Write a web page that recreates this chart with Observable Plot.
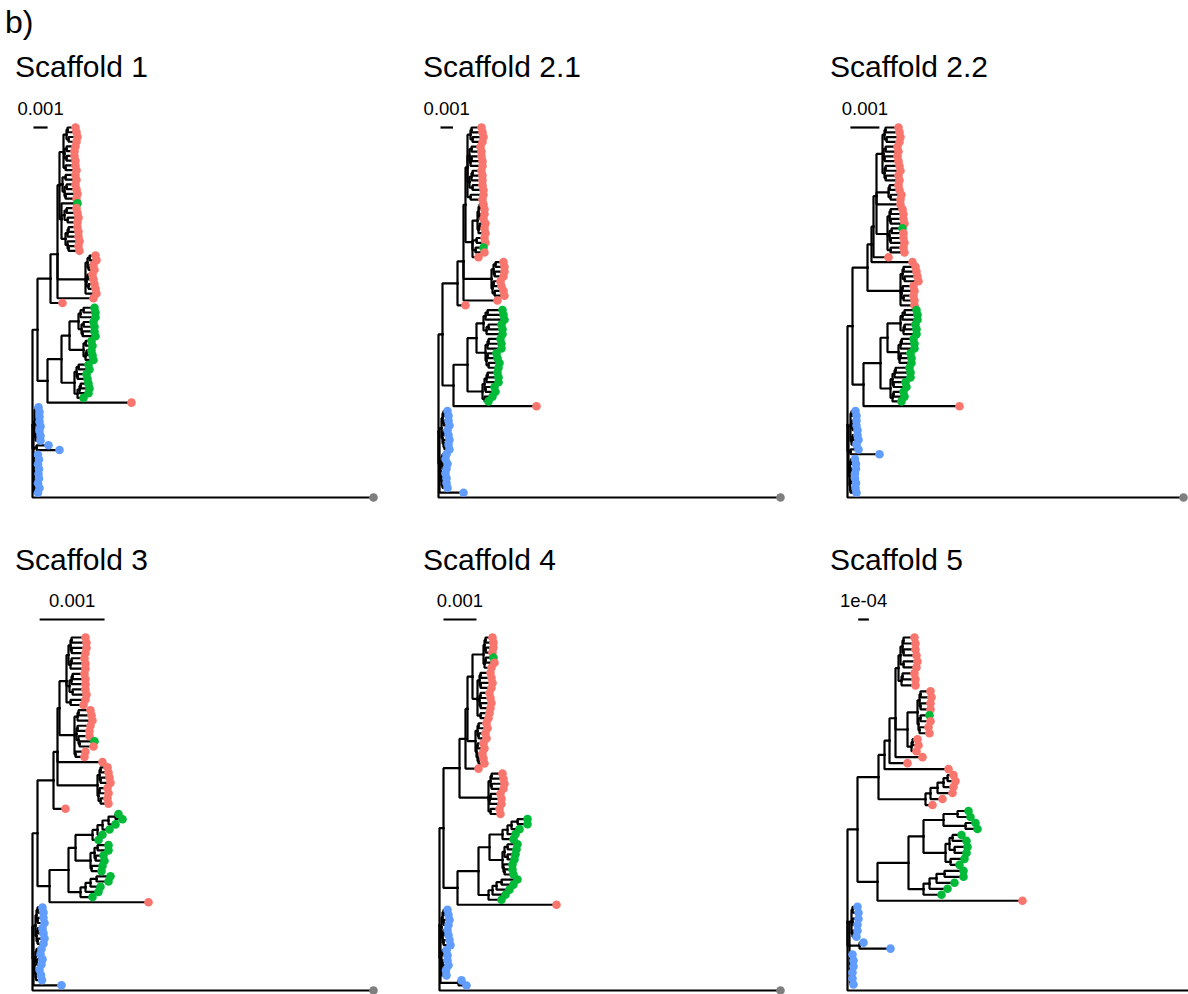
<!DOCTYPE html>
<html>
<head>
<meta charset="utf-8">
<script src="https://cdn.jsdelivr.net/npm/d3@7"></script>
<script src="https://cdn.jsdelivr.net/npm/@observablehq/plot@0.6"></script>
<style>
  html, body { margin: 0; padding: 0; background: #fff; }
  body { width: 1188px; height: 994px; overflow: hidden; position: relative;
         font-family: "Liberation Sans", Arial, Helvetica, sans-serif; color: #000; }
  .lbl { position: absolute; line-height: 1; white-space: nowrap; }
  .panel { position: absolute; width: 396px; }
  .panel svg { display: block; }
</style>
</head>
<body>
<script>
// ---- data -------------------------------------------------------------
const figureTag = "b)";
const panelTitles = ["Scaffold 1", "Scaffold 2.1", "Scaffold 2.2", "Scaffold 3", "Scaffold 4", "Scaffold 5"];
const scaleBarLabels = ["0.001", "0.001", "0.001", "0.001", "0.001", "1e-04"];
const scaleBarLengths = [0.001, 0.001, 0.001, 0.001, 0.001, 0.0001];
const scaleBarStarts = [0.00007, 0.00016, 0.0001, 0.00011, 0.00012, 0.0001];
// substitutions per site carried by one Newick length unit, per tree
const branchUnits = [7.1e-5, 8.0e-5, 3.45e-5, 1.54e-5, 3.03e-5, 9.35e-6];
// tip label -> lineage
const tipGroups = ["r", "g", "b", "o"];
const tipColors = ["#F8766D", "#00BA38", "#619CFF", "#7F7F7F"];

const treeScaffold1 = `(
  (
    (
      (
        (
          (((r:8,r:9):1,(r:9,r:8):2):3,((r:9,r:8):2,(r:8,r:9):2):1,(r:10,r:11):2):4,
          ((r:10,r:11):3,((r:9,r:10):2,(r:12,r:11):1):2):3,
          (g:16,((r:10,r:11):2,(r:11,r:10):3):3,(((r:9,r:10):1,r:11):2,(r:12,(r:10,r:11):1):2):4):2
        ):2,
        (((r:6,r:7):2,(r:5,r:6):1):2,((r:5,r:6):1,(r:6,r:7):2):1,r:11):28,
        r:36
      ):7,
      r:12
    ):13,
    (
      (
        (
          (((g:11,g:12):3,g:15):2,((g:10,g:11):2,(g:12,g:13):1):3):9,
          ((g:6,g:7):2,((g:5,g:6):1,g:8):2):14
        ):8,
        (((g:10,g:11):2,(g:9,g:10):1):2,(((g:8,g:9):1,g:9):2,g:6):3):13
      ):14,
      r:84
    ):10
  ):5,
  (
    ((b:3,b:4):1,(b:4,(b:3,b:4):1):1,((b:3,b:4):1,b:5):1):1,
    (b:12,b:23):3,
    ((b:3,b:4):1,((b:3,b:4):0.5,b:4):0.5,((b:4,b:3):0.5,b:5):0.5,b:4):0.5
  ):1,
  o:341
);`;

const treeScaffold21 = `(
  (
    (
      (
        (
          (((r:10,r:11):1,(r:11,r:10):2):3,((r:9,r:10):2,((r:10,r:11):1,r:12):1):2,(((r:9,r:10):1,r:11):2,(r:10,r:11):3):2,(r:13,r:12):3):2,
          ((((r:4,r:5):1,(r:5,r:4):1):1,((r:6,r:5):1,r:7):1):5,(r:8,r:9):4,(g:8,r:9):3,r:6):7
        ):2,
        (((r:8,r:9):2,(r:10,r:9):1):2,((r:7,r:8):1,(r:9,r:10):2):1):28,
        r:34
      ):6,
      r:8
    ):15,
    (
      (
        (
          (((g:15,g:16):2,g:19):2,((g:13,g:14):2,g:16):3):7,
          (((g:12,g:13):1,g:14):2,((g:9,g:10):1,(g:11,g:10):2):1):9
        ):9,
        ((((g:10,g:11):1,g:12):2,(g:9,g:10):1):2,(g:8,g:4):2):15
      ):14,
      r:83
    ):11
  ):4,
  (
    (((b:4,b:5):1,(b:5,b:6):1):1,((b:4,b:5):1,(b:6,(b:4,b:5):1):1):1):2,
    (((b:4,b:3):1,(b:5,b:4):1):1,((b:3,b:4):1,(b:4,b:5):1):1):1,
    b:24
  ):1,
  o:342
);`;

const treeScaffold22 = `(
  (
    (
      (
        (
          (
            (((r:13,r:14):1,(r:14,r:13):2):2,((r:12,r:13):2,(r:13,r:14):1):1,((r:14,r:15):1,(r:13,r:14):1):2):6,
            ((r:9,r:10):1,(r:11,r:10):2):12,
            r:24,
            (((r:12,r:13):1,(r:13,r:14):1):2,((g:11,r:12):2,(r:13,r:14):1):2,(r:13,r:14):3):11
          ):3,
          r:15
        ):2,
        r:41
      ):4,
      (((r:12,r:13):1,(r:13,r:14):2):2,((r:11,r:12):1,(r:10,r:11):2):1,r:14):33
    ):15,
    (
      (
        (
          (((g:12,g:13):2,g:15):2,((g:11,g:12):1,g:13):3):13,
          (((g:12,g:13):1,g:14):2,((g:10,g:11):1,g:12):1):11
        ):7,
        ((((g:14,g:15):1,g:16):2,(g:12,g:13):1):2,((g:10,g:11):1,g:9):2):10
      ):17,
      r:96
    ):11
  ):5,
  (
    ((b:4,b:5):1,(b:5,(b:4,b:5):1):1,((b:5,b:6):1,b:5):1):2,
    (b:8,b:29):2,
    (((b:4,b:5):1,(b:5,b:4):1):0.5,((b:4,b:5):1,(b:5,b:6):0.5):0.5):1
  ):1,
  o:336
);`;

const treeScaffold3 = `(
  (
    (
      (
        (
          ((((r:14,r:15):1,(r:15,r:14):1):2,((r:13,r:14):1,r:15):2):2,(((r:12,r:13):1,r:14):2,(r:13,r:14):3):3,(r:15,r:13):4):7,
          (((r:12,r:13):1,r:15):3,((r:13,r:12):1,(r:11,(g:15,r:14):1):2):2,(r:10,r:9):1):15
        ):2,
        r:45,
        (((r:7,r:8):1,(r:9,r:10):1):2,((r:8,r:9):1,(r:7,r:8):2):1):40
      ):4,
      r:12
    ):16,
    (
      (
        (
          (((((g:3,g:7):7,g:7):6,g:7):5,g:5):5,g:6):17,
          (((g:11,g:11):3,(g:8,g:9):1):4,(g:11,g:10):1):15
        ):7,
        ((((g:14,g:12):6,g:10):5,g:13):5,g:12):12
      ):19,
      r:99
    ):12
  ):5,
  (
    (((b:5,b:6):1,(b:6,b:7):1):1,((b:5,b:6):1,(b:7,b:6):1):1):2,
    (((b:5,b:4):1,(b:6,b:5):1):1,(b:4,(b:5,b:6):0.5):1):1,
    b:28
  ):1,
  o:341
);`;

const treeScaffold4 = `(
  (
    (
      (
        (
          (
            (((r:7,r:8):1,(r:8,r:7):1):1,((g:8,r:9):1,r:7):1):11,
            (((r:10,r:11):1,(r:12,r:11):1):2,((r:9,r:10):1,(r:11,r:10):1):2,(r:9,r:8):3):5
          ):5,
          (((r:8,r:9):1,(r:7,r:8):1):2,((r:6,r:7):1,(r:5,(r:5,r:6):1):1):1):8
        ):2,
        r:13
      ):6,
      (((r:11,r:12):1,(r:13,r:12):1):2,((r:10,r:11):1,r:12):1,(r:9,r:10):2):29
    ):16,
    (
      (
        (
          ((((g:10,g:10):6,g:8):4,g:8):5,g:11):13,
          (((g:10,g:9):3,(g:8,g:7):3):2,(g:9,(g:8,g:9):1):1):13
        ):11,
        ((((g:16,g:12):5,g:13):4,g:13):4,g:13):10
      ):21,
      r:99
    ):14
  ):4,
  (
    (((b:4,b:5):1,(b:6,b:5):1):1,((b:4,b:5):1,(b:6,b:7):1):1):1,
    ((b:4,b:5):1,((b:5,b:6):0.5,b:4):0.5,b:5):1,
    (b:3,b:8):18
  ):1,
  o:341
);`;

const treeScaffold5 = `(
  (
    (
      (
        (
          (
            ((((r:11,r:12):1,(r:12,r:13):1):2,(r:14,r:13):3):2,((r:12,r:13):1,r:14):3):3,
            ((((r:10,r:11):1,(r:10,r:10):1):2,((g:9,r:10):2,(r:9,r:10):1):1):10,((r:5,r:6):1,r:5):4):12,
            r:27
          ):6,
          r:18
        ):5,
        r:64
      ):6,
      (((((r:6,r:8):4,r:10):6,r:15):7,r:12):5,r:7):47
    ):21,
    (
      (
        (
          ((g:11,g:13):14,(g:10,g:12):22):20,
          (((g:9,g:14):3,(g:13,g:12):5):4,(g:14,g:9):5):22
        ):15,
        ((((g:19,g:19):8,g:18):7,g:18):6,g:18):15
      ):31,
      r:145
    ):20
  ):10,
  (
    ((b:5,b:6):1,(b:6,b:5):1,(b:5,b:4):1):2,
    (b:4,b:31):10,
    ((b:2,b:3):0.5,(b:3,b:2):0.5,(b:2,b:3):0.5):0.5
  ):2,
  o:380
);`;

const trees = [treeScaffold1, treeScaffold21, treeScaffold22, treeScaffold3, treeScaffold4, treeScaffold5];

// ---- layout constants ---------------------------------------------------
const panelWidth = 396;
const colLeft = [0, 396, 792];
const titleLeft = [15, 423, 830];
const rootPx = [32, 42, 55, 32, 43, 55];          // where the root sits inside each panel
const rows = [
  {top: 90,  height: 420, tipTop: 37, tipBottom: 407, bar: 37, titleTop: 51.5},
  {top: 580, height: 414, tipTop: 57, tipBottom: 410, bar: 39, titleTop: 544.5}
];
const fontStack = "Liberation Sans, Arial, Helvetica, sans-serif";

// ---- Newick parsing and rectangular layout -------------------------------
function parseNewick(text) {
  const s = text.replace(/\s+/g, "");
  let i = 0;
  function node() {
    const n = {children: [], name: "", length: 0};
    if (s[i] === "(") {
      i++;
      n.children.push(node());
      while (s[i] === ",") { i++; n.children.push(node()); }
      i++; // closing ")"
    }
    while (i < s.length && !",():;".includes(s[i])) n.name += s[i++];
    if (s[i] === ":") {
      i++;
      let num = "";
      while (i < s.length && !",();".includes(s[i])) num += s[i++];
      n.length = +num;
    }
    return n;
  }
  return node();
}

function layoutTree(root, unit) {
  const tips = [], edges = [];
  (function depth(n, x) {
    n.x = x;
    if (!n.children.length) tips.push(n);
    n.children.forEach(c => depth(c, x + c.length * unit));
  })(root, 0);
  const N = tips.length;
  tips.forEach((t, k) => { t.y = N - k; t.group = t.name; });
  (function height(n) {
    if (n.children.length) {
      n.children.forEach(height);
      n.y = d3.mean(n.children, c => c.y);
    }
  })(root);
  (function collect(n) {
    n.children.forEach(c => {
      edges.push({x1: n.x, y1: n.y, x2: c.x, y2: c.y});
      collect(c);
    });
  })(root);
  return {tips, edges, N};
}

// ---- page text ---------------------------------------------------------
function addLabel(text, left, top, size) {
  const d = document.createElement("div");
  d.className = "lbl";
  d.textContent = text;
  d.style.left = left + "px";
  d.style.top = top + "px";
  d.style.fontSize = size + "px";
  document.body.appendChild(d);
}
addLabel(figureTag, 5, 6, 32);

// ---- panels ------------------------------------------------------------
trees.forEach((nwk, k) => {
  const row = rows[Math.floor(k / 3)];
  const col = k % 3;
  const unit = branchUnits[k];
  const {tips, edges, N} = layoutTree(parseNewick(nwk), unit);
  const perTip = (row.tipBottom - row.tipTop) / (N - 1);
  const yBar = N + (row.tipTop - row.bar) / perTip;
  const bar = [{x1: scaleBarStarts[k], x2: scaleBarStarts[k] + scaleBarLengths[k], y: yBar, label: scaleBarLabels[k]}];

  const chart = Plot.plot({
    width: panelWidth,
    height: row.height,
    margin: 0,
    x: {domain: [-rootPx[k] * unit, (panelWidth - rootPx[k]) * unit], range: [0, panelWidth], axis: null},
    y: {domain: [1, N], range: [row.tipBottom, row.tipTop], axis: null},
    color: {domain: tipGroups, range: tipColors},
    style: {background: "transparent", fontFamily: fontStack},
    marks: [
      Plot.link(edges, {x1: "x1", y1: "y1", x2: "x2", y2: "y2", curve: "step-before",
                        stroke: "#000", strokeWidth: 2.2, strokeLinecap: "square"}),
      Plot.link(bar, {x1: "x1", x2: "x2", y1: "y", y2: "y", stroke: "#000", strokeWidth: 2.2}),
      Plot.text(bar, {x: d => (d.x1 + d.x2) / 2, y: "y", text: "label", dy: -18,
                      fontSize: 18.5, fill: "#000", textAnchor: "middle"}),
      Plot.dot(tips, {x: "x", y: "y", fill: "group", r: 4.3, stroke: null})
    ]
  });

  const holder = document.createElement("div");
  holder.className = "panel";
  holder.style.left = colLeft[col] + "px";
  holder.style.top = row.top + "px";
  holder.appendChild(chart);
  document.body.appendChild(holder);

  addLabel(panelTitles[k], titleLeft[col], row.titleTop, 30);
});
</script>
</body>
</html>
